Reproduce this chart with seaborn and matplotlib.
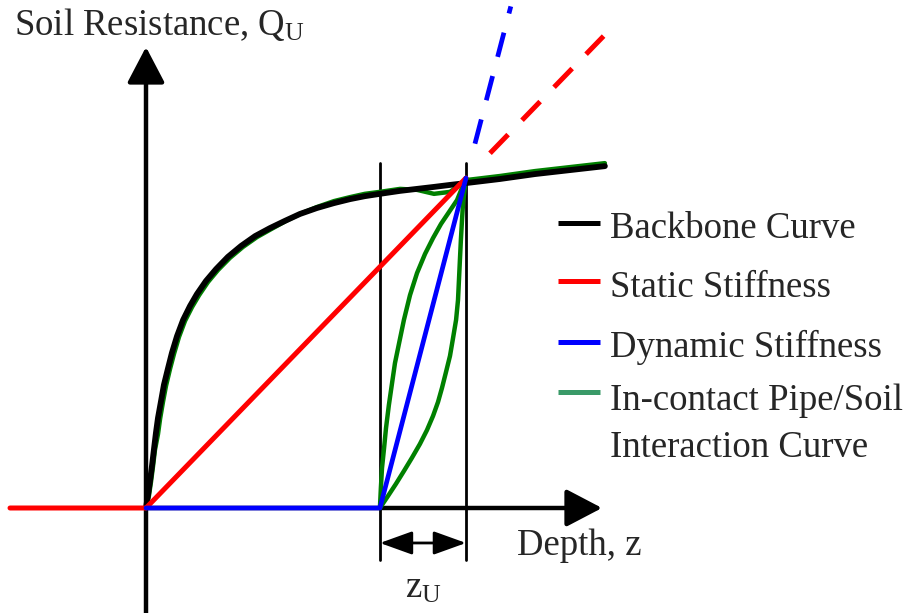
import numpy as np
import pandas as pd
import matplotlib
matplotlib.use('Agg')
import matplotlib.pyplot as plt
import seaborn as sns

# ------------------------------------------------------- #
#                          DATA                           #
# z normalised by the reversal depth, Q by its resistance  #
# ------------------------------------------------------- #
backbone_z = [0, 0.00625, 0.0125, 0.019, 0.025, 0.031, 0.0375, 0.047, 0.056, 0.069,
              0.081, 0.097, 0.116, 0.1375, 0.159, 0.1875, 0.219, 0.256, 0.297, 0.341,
              0.387, 0.434, 0.481, 0.534, 0.5875, 0.6375, 0.684, 0.731, 0.794, 0.847,
              0.9, 0.95, 1.003, 1.106, 1.216, 1.325, 1.434]
backbone_q = [0, 0.039, 0.082, 0.130, 0.179, 0.227, 0.273, 0.324, 0.373, 0.424,
              0.470, 0.521, 0.570, 0.612, 0.648, 0.688, 0.724, 0.761, 0.794, 0.824,
              0.848, 0.870, 0.891, 0.909, 0.924, 0.936, 0.945, 0.952, 0.961, 0.967,
              0.973, 0.979, 0.985, 0.997, 1.012, 1.024, 1.036]

# in-contact curve: along the backbone, then unloading / reloading loop
contact_z = [0, 0.009, 0.0156, 0.022, 0.028, 0.0375, 0.044, 0.053, 0.0625, 0.075,
             0.0875, 0.103, 0.122, 0.144, 0.166, 0.194, 0.225, 0.2625, 0.303, 0.347,
             0.391, 0.4375, 0.481, 0.534, 0.5875, 0.6375, 0.684, 0.731, 0.794, 0.847,
             0.9, 0.95, 1.003, 1.106, 1.216, 1.325, 1.434]
contact_q = [0, 0.036, 0.079, 0.127, 0.176, 0.224, 0.270, 0.321, 0.370, 0.421,
             0.467, 0.518, 0.567, 0.609, 0.645, 0.685, 0.721, 0.758, 0.791, 0.821,
             0.845, 0.870, 0.891, 0.912, 0.930, 0.942, 0.952, 0.958, 0.967, 0.964,
             0.952, 0.958, 0.994, 1.006, 1.021, 1.033, 1.045]
reload_z = [0.731, 0.734, 0.7375, 0.744, 0.75, 0.759, 0.769, 0.778, 0.791, 0.806,
            0.825, 0.847, 0.872, 0.897, 0.922, 0.947, 0.972, 1.0]
reload_q = [0, 0.061, 0.121, 0.182, 0.242, 0.312, 0.379, 0.439, 0.5, 0.570,
            0.645, 0.712, 0.770, 0.818, 0.861, 0.897, 0.933, 1.0]
unload_z = [0.731, 0.756, 0.781, 0.806, 0.831, 0.856, 0.878, 0.897, 0.9125, 0.925,
            0.9375, 0.95, 0.959, 0.969, 0.975, 0.978, 0.981, 0.984, 0.9875, 0.991, 1.0]
unload_q = [0, 0.036, 0.073, 0.112, 0.152, 0.194, 0.236, 0.279, 0.321, 0.364,
            0.412, 0.461, 0.512, 0.570, 0.630, 0.691, 0.752, 0.812, 0.873, 0.927, 1.0]

# static stiffness (secant from origin) and dynamic stiffness (from zU start)
static_z = [-0.425, 0, 1.0]
static_q = [0, 0, 1.0]
static_ext_z = [1.075, 1.43]
static_ext_q = [1.075, 1.43]
dynamic_z = [0, 0.731, 1.0]
dynamic_q = [0, 0, 1.0]
dynamic_ext_z = [1.028, 1.14]
dynamic_ext_q = [1.104, 1.52]

z_start, z_reversal = 0.731, 1.0

labels = ['Backbone Curve', 'Static Stiffness', 'Dynamic Stiffness',
          'In-contact Pipe/Soil', 'Interaction Curve']
colors = ['black', '#ff0000', '#0000ff', '#3a9a68']

# ------------------------------------------------------- #
#                        FIGURA                           #
# ------------------------------------------------------- #
sns.set_style('white')
plt.rcParams['font.family'] = ['Liberation Serif', 'DejaVu Serif']
plt.rcParams['mathtext.fontset'] = 'custom'
plt.rcParams['mathtext.rm'] = 'Liberation Serif'

W, H = 916, 613
fig = plt.figure(figsize=(W / 100, H / 100), dpi=100)
ax = fig.add_axes([0, 0, 1, 1])
ax.set_xlim(-146 / 320, (W - 146) / 320)
ax.set_ylim(-(H - 508) / 330, 508 / 330)
ax.axis('off')

def fx(px):
    return px / W

def fy(py):
    return 1 - py / H

axis_arrow = dict(arrowstyle='-|>,head_length=1.05,head_width=0.55',
                  mutation_scale=21, lw=3.2, color='black',
                  shrinkA=0, shrinkB=0)
# ejes y, x
ax.annotate('', xy=(0, 1.397), xytext=(0, -0.33), arrowprops=axis_arrow, zorder=1)
ax.annotate('', xy=(1.425, 0), xytext=(0, 0), arrowprops=axis_arrow, zorder=1)

# lineas guia de zU
for zv in [z_start, z_reversal]:
    ax.plot([zv, zv], [-0.158, 1.045], color='black', lw=2.0, zorder=1.5)

ax.annotate('', xy=(z_reversal, -0.106), xytext=(z_start, -0.106),
            arrowprops=dict(arrowstyle='<|-|>,head_length=1.0,head_width=0.36',
                            mutation_scale=20, lw=2.0, color='black',
                            shrinkA=0, shrinkB=0))

green = '#008000'
for zz, qq in [(contact_z, contact_q), (reload_z, reload_q), (unload_z, unload_q)]:
    sns.lineplot(x=zz, y=qq, sort=False, estimator=None, color=green,
                 lw=3.2, ax=ax)

sns.lineplot(x=backbone_z, y=backbone_q, sort=False, estimator=None,
             color='black', lw=4.2, ax=ax)
sns.lineplot(x=static_z, y=static_q, sort=False, estimator=None,
             color='#ff0000', lw=3.6, ax=ax)
sns.lineplot(x=static_ext_z, y=static_ext_q, sort=False, estimator=None,
             color='#ff0000', lw=3.6, linestyle=(0, (5.2, 4.0)), ax=ax)
sns.lineplot(x=dynamic_z, y=dynamic_q, sort=False, estimator=None,
             color='#0000ff', lw=3.4, ax=ax)
sns.lineplot(x=dynamic_ext_z, y=dynamic_ext_q, sort=False, estimator=None,
             color='#0000ff', lw=3.4, linestyle=(0, (5.3, 4.2)), ax=ax)

# ------------------------------------------------------- #
#                        TEXTOS                           #
# ------------------------------------------------------- #
fs = 26.5
ax.text(fx(14), fy(35), r'Soil Resistance, $\mathrm{Q_U}$', fontsize=fs,
        transform=ax.transAxes, va='baseline', ha='left')
ax.text(fx(517), fy(555), 'Depth, z', fontsize=fs,
        transform=ax.transAxes, va='baseline', ha='left')
ax.text(fx(405), fy(598), r'$\mathrm{z_U}$', fontsize=fs,
        transform=ax.transAxes, va='baseline', ha='left')

# leyenda manual
handle_y = [223, 281, 342, 392]
for c, hy in zip(colors, handle_y):
    ax.plot([fx(558), fx(600)], [fy(hy), fy(hy)], color=c, lw=3.6,
            solid_capstyle='butt', transform=ax.transAxes)
for lab, by in zip(labels, [238, 297, 357, 410, 457]):
    ax.text(fx(610), fy(by), lab, fontsize=fs, transform=ax.transAxes,
            va='baseline', ha='left')

fig.savefig('out.png', dpi=100)
